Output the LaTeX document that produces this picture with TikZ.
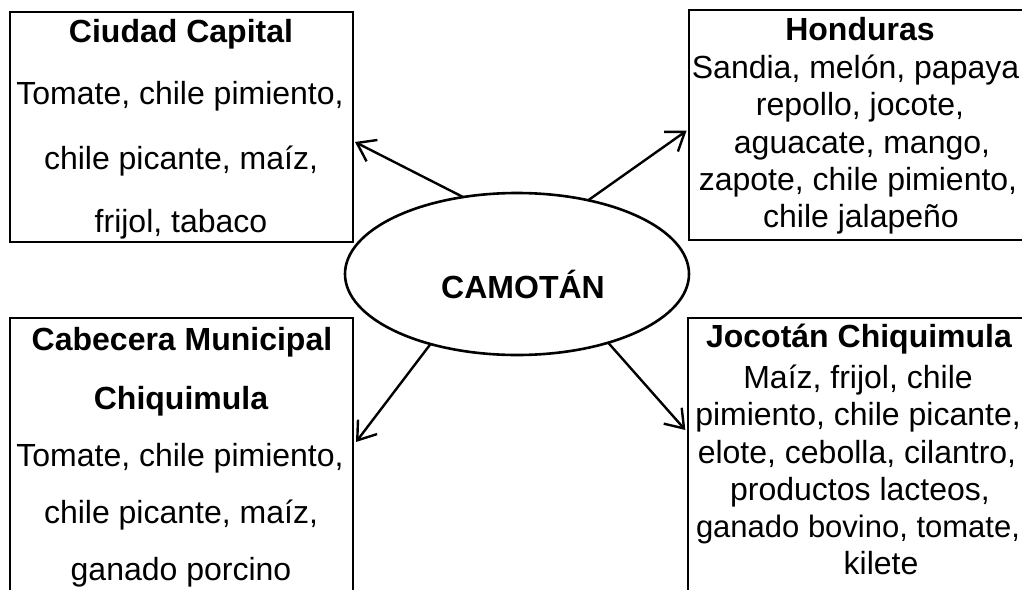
\documentclass[tikz,border=0pt]{standalone}
\usepackage{fontspec}
\setmainfont{Liberation Sans}
\usetikzlibrary{arrows.meta,shapes.geometric,calc}
\begin{document}
\begin{tikzpicture}[x=1pt,y=-1pt,
  boxst/.style={draw,line width=2.2pt,inner sep=0pt,outer sep=0pt,anchor=north west},
  txt/.style={anchor=base,inner sep=0pt,font=\fontsize{32}{38}\selectfont},
  hd/.style={txt,font=\fontsize{32}{38}\selectfont\bfseries},
  arr/.style={line width=2.4pt,-{Straight Barb[length=17pt,width=24pt,line width=2.4pt]}}]
\useasboundingbox (0,0) rectangle (1022,589);
\clip (0,0) rectangle (1022,589);
% boxes
\node[boxst,minimum width=343pt,minimum height=230pt] (tl) at (10,12) {};
\node[boxst,minimum width=342pt,minimum height=230pt] (tr) at (689,10) {};
\node[boxst,minimum width=343pt,minimum height=300pt] (bl) at (10,318) {};
\node[boxst,minimum width=343pt,minimum height=300pt] (br) at (688,318) {};
% centre ellipse
\node[draw,ellipse,line width=2.6pt,inner sep=0pt,outer sep=0pt,minimum width=344pt,minimum height=162pt] (cam) at (517,274) {};
\node[hd] (camt) at (523,298) {CAMOTÁN};
% top left text
\node[hd] (tl0) at (181,42) {Ciudad Capital};
\node[txt] (tl1) at (180,104) {Tomate, chile pimiento,};
\node[txt] (tl2) at (181,169) {chile picante, maíz,};
\node[txt] (tl3) at (181,232) {frijol, tabaco};
% top right text
\node[hd] (tr0) at (860,40) {Honduras};
\node[txt] (tr1) at (860,78) {Sandia, melón, papaya,};
\node[txt] (tr2) at (860,115) {repollo, jocote,};
\node[txt] (tr3) at (862,153) {aguacate, mango,};
\node[txt] (tr4) at (858,190) {zapote, chile pimiento,};
\node[txt] (tr5) at (861,227) {chile jalapeño};
% bottom left text
\node[hd] (bl0) at (182,350) {Cabecera Municipal};
\node[hd] (bl1) at (181,409) {Chiquimula};
\node[txt] (bl2) at (180,466) {Tomate, chile pimiento,};
\node[txt] (bl3) at (181,523) {chile picante, maíz,};
\node[txt] (bl4) at (181,580) {ganado porcino};
% bottom right text
\node[hd] (br0) at (859,347) {Jocotán Chiquimula};
\node[txt] (br1) at (858,388) {Maíz, frijol, chile};
\node[txt] (br2) at (858,425) {pimiento, chile picante,};
\node[txt] (br3) at (857,463) {elote, cebolla, cilantro,};
\node[txt] (br4) at (860,500) {productos lacteos,};
\node[txt,font=\fontsize{31}{38}\selectfont] (br5) at (858,537) {ganado bovino, tomate,};
\node[txt] (br6) at (881,574) {kilete};
% arrows
\draw[arr] (cam.125) -- ($(tl.north east)+(2,130)$);
\draw[arr,shorten >=3pt] (cam.46) -- ($(tr.north west)+(0,119)$);
\draw[arr] (cam.219) -- ($(bl.north east)+(3,124)$);
\draw[arr,shorten >=4pt] (cam.-37) -- ($(br.north west)+(0,115)$);
\end{tikzpicture}
\end{document}
